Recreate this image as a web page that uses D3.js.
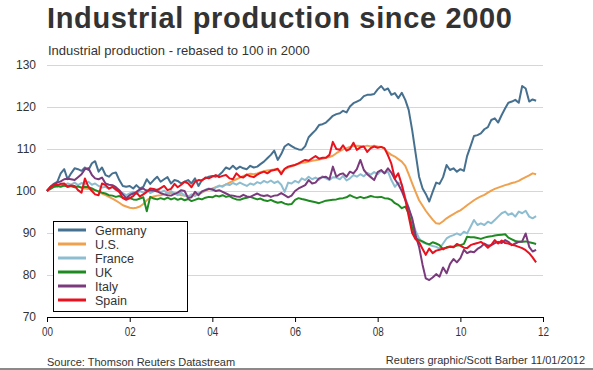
<!DOCTYPE html>
<html>
<head>
<meta charset="utf-8">
<script src="https://cdn.jsdelivr.net/npm/d3@7"></script>
<style>
  html, body { margin: 0; padding: 0; background: #fff; }
  svg { display: block; font-family: "Liberation Sans", Arial, sans-serif; }
</style>
</head>
<body>
<svg id="chart" width="593" height="370"></svg>
<script>
// ---------- DATA (monthly, Jan 2000 .. Nov 2011, index 2000 = 100) ----------
const seriesNames = ["Germany", "U.S.", "France", "UK", "Italy", "Spain"];
const seriesColors = ["#46708f", "#f0a14e", "#8dbdd1", "#1f8a22", "#7a3a7c", "#e8111d"];
const yTicks = [70, 80, 90, 100, 110, 120, 130];
const xTickYears = [2000, 2002, 2004, 2006, 2008, 2010, 2012];
const xTickLabels = ["00", "02", "04", "06", "08", "10", "12"];

const germany = [
  100.0, 101.0, 101.7, 102.2, 104.2, 105.2, 102.8, 104.2, 105.4, 105.2, 104.8, 105.6,
  105.0, 106.6, 107.1, 104.6, 105.6, 103.8, 103.4, 104.2, 104.4, 102.6, 101.2, 101.0,
  101.2, 100.6, 101.4, 100.6, 101.0, 102.8, 101.7, 102.6, 103.4, 102.2, 102.8, 103.3,
  101.8, 102.6, 102.4, 101.8, 102.2, 102.6, 101.8, 103.0, 101.2, 102.6, 103.0, 103.4,
  103.6, 103.4, 103.8, 104.6, 105.6, 105.2, 106.0, 105.2, 105.8, 105.4, 105.2, 106.0,
  105.6, 105.8, 106.4, 107.0, 107.8, 108.6, 109.6, 107.4, 108.8, 110.6, 111.2, 110.7,
  110.2, 109.9, 109.8, 110.7, 112.8, 113.7, 114.5, 115.7, 115.9, 116.3, 117.1, 117.9,
  118.3, 118.5, 119.1, 118.7, 120.1, 120.9, 121.3, 121.7, 122.6, 122.9, 122.9, 123.1,
  124.2, 125.0, 124.0, 124.4, 122.9, 123.3, 122.1, 123.4, 121.7, 119.3, 114.5, 109.0,
  103.4, 100.6, 99.3, 97.5, 99.8, 102.0, 101.7, 103.3, 106.2, 105.0, 105.4, 104.6,
  105.2, 104.8, 108.3, 110.7, 113.1, 113.3, 113.7, 114.7, 115.2, 116.9, 117.3, 116.3,
  118.1, 119.7, 121.0, 121.3, 121.7, 121.0, 125.0, 124.4, 121.3, 121.8, 121.5
];
const us = [
  100.0, 100.8, 101.0, 101.2, 101.5, 101.4, 101.2, 101.2, 101.0, 101.0, 100.8, 100.6,
  100.5, 100.3, 100.2, 99.8, 99.4, 99.0, 98.6, 98.2, 97.7, 97.2, 96.6, 96.3,
  96.0, 95.9, 96.0, 96.3, 96.9, 97.8, 98.4, 98.7, 98.9, 99.0, 99.2, 99.4,
  99.6, 99.4, 99.2, 99.0, 98.9, 98.8, 98.9, 99.1, 99.3, 99.6, 100.1, 100.4,
  100.6, 100.9, 101.1, 101.2, 101.6, 102.0, 102.4, 102.8, 103.2, 103.6, 103.9, 104.1,
  104.0, 104.2, 104.5, 104.7, 104.9, 105.0, 105.1, 105.0, 104.5, 105.2, 105.6, 105.9,
  106.2, 106.5, 106.7, 106.8, 107.0, 107.2, 107.3, 107.5, 107.7, 107.9, 108.1, 108.4,
  109.0, 109.5, 109.9, 110.2, 110.5, 110.7, 110.8, 110.7, 110.6, 110.8, 110.6, 110.8,
  110.6, 110.5, 110.0, 109.2, 108.6, 108.2, 107.6, 107.0, 106.0, 104.0, 101.8, 99.8,
  97.8, 96.5, 95.3, 94.2, 93.2, 92.3, 92.2, 92.8, 93.5, 94.0, 94.5, 95.0,
  95.4, 96.0, 96.6, 97.2, 97.8, 98.3, 98.7, 99.1, 99.6, 100.1, 100.5, 100.8,
  101.1, 101.4, 101.6, 101.9, 102.1, 102.4, 102.9, 103.3, 103.7, 104.2, 104.0
];
const france = [
  100.0, 100.8, 101.2, 101.0, 101.6, 101.3, 101.8, 101.5, 102.0, 101.4, 101.9, 101.6,
  102.2, 101.5, 101.8, 101.2, 100.8, 101.0, 100.5, 100.9, 100.2, 99.8, 99.5, 99.0,
  99.4, 99.8, 99.3, 100.0, 99.6, 100.3, 99.5, 99.9, 100.4, 99.7, 100.1, 99.5,
  100.0, 99.4, 99.0, 99.6, 98.9, 98.6, 99.2, 98.8, 99.5, 99.8, 100.3, 100.6,
  100.2, 100.9, 101.3, 101.0, 101.6, 101.4, 101.9, 101.5, 102.0, 101.6, 101.2, 101.8,
  101.5, 102.1, 101.8, 102.4, 102.0, 102.5, 101.9, 102.3, 101.5, 99.8, 102.0, 101.8,
  102.4, 102.0, 103.0, 102.6, 103.4, 102.8, 103.2, 102.7, 103.5, 103.0, 102.6, 103.3,
  103.2, 102.8, 103.6, 102.5, 103.0, 103.8, 103.4, 104.0, 103.5, 104.3, 103.9, 104.5,
  104.0, 104.8, 104.2, 104.6, 102.6, 101.0, 102.0, 101.6, 98.5, 96.0, 93.1, 90.5,
  88.7, 87.8, 87.5, 87.2, 86.9, 86.7, 86.3, 87.5, 88.7, 89.2, 89.5, 89.9,
  89.5, 90.3, 89.9, 91.5, 93.1, 91.9, 92.3, 91.9, 92.7, 92.3, 93.1, 93.9,
  94.7, 95.1, 94.3, 94.7, 93.9, 95.1, 94.7, 95.3, 93.9, 93.5, 94.0
];
const uk = [
  100.0, 100.5, 101.0, 101.2, 101.0, 101.3, 101.0, 101.2, 100.9, 101.1, 100.8, 101.0,
  100.9, 100.6, 100.2, 99.9, 99.6, 99.4, 99.0, 98.9, 98.6, 98.8, 98.4, 98.2,
  98.3, 98.0, 97.9, 98.2, 98.5, 95.2, 98.6, 98.2, 98.0, 98.3, 98.0, 98.4,
  98.0, 98.3, 97.9, 98.2, 97.8, 98.1, 97.6, 97.9, 98.2, 98.0, 98.4, 98.6,
  98.5, 98.9, 98.7, 99.0, 98.6, 98.8, 98.3, 98.0, 97.9, 98.2, 98.4, 98.6,
  98.3, 98.0, 98.2, 97.8, 97.6, 97.9, 97.5, 97.2, 97.4, 97.0, 96.8, 96.9,
  97.9, 98.3, 98.1, 97.9, 97.7, 97.5, 97.3, 97.1, 97.4, 97.7, 97.8, 97.9,
  98.0, 98.2, 98.3, 98.5, 99.0, 98.6, 98.3, 98.6, 98.3, 98.5, 98.8, 98.6,
  98.5, 98.6, 98.3, 98.2, 97.9, 97.1, 96.7, 95.9, 96.3, 94.7, 91.5, 88.7,
  88.3, 88.0, 87.6, 87.3, 87.8, 87.5, 87.1, 86.1, 86.6, 86.8, 86.7, 87.0,
  87.1, 87.4, 89.1, 89.0, 89.0, 88.8, 88.6, 88.9, 89.1, 89.2, 89.4, 89.5,
  89.6, 89.7, 88.9, 88.5, 88.1, 87.9, 87.9, 88.0, 87.8, 87.6, 87.4
];
const italy = [
  100.0, 101.0, 101.5, 102.0, 102.3, 102.8, 102.9, 102.8, 102.6, 103.3, 104.0, 105.2,
  105.4, 103.8, 103.0, 102.8, 103.2, 101.8, 101.5, 101.4, 100.9, 100.2, 99.2, 98.3,
  99.0, 99.4, 99.8, 100.4, 100.6, 100.0, 100.2, 100.1, 99.9, 99.5, 99.2, 99.0,
  98.9, 99.3, 99.6, 100.2, 100.0, 98.3, 98.5, 99.8, 99.0, 99.9, 100.2, 100.5,
  100.4, 100.0, 100.2, 99.8, 99.4, 99.0, 98.9, 98.7, 98.6, 99.1, 98.7, 98.6,
  99.0, 99.4, 99.0, 98.8, 99.0, 98.6, 98.9, 99.0, 99.5, 99.0, 98.5, 98.9,
  100.0, 100.6, 101.0, 101.4, 102.6, 101.8, 102.0, 103.0, 103.3, 103.4, 102.8, 105.8,
  103.4, 104.0, 104.2, 103.4, 104.6, 104.2, 105.2, 107.4, 105.0, 104.0, 103.3, 102.6,
  104.5, 105.0, 104.2, 105.4, 104.4, 102.8, 101.6, 100.0, 97.9, 95.9, 93.5, 89.5,
  86.7, 82.4, 79.2, 78.8, 79.4, 80.2, 79.6, 81.8, 80.4, 82.6, 83.8, 83.0,
  84.0, 86.0, 85.2, 85.6, 85.4, 86.2, 86.7, 87.5, 87.0, 87.1, 87.6, 87.9,
  87.6, 88.3, 87.9, 87.1, 87.5, 87.9, 88.0, 89.9, 86.7, 85.6, 86.0
];
const spain = [
  100.0, 101.0, 101.4, 101.4, 101.7, 101.8, 101.0, 101.3, 101.2, 100.2, 99.6, 103.0,
  101.0, 100.0, 99.2, 99.0, 101.8, 101.4, 100.6, 101.0, 100.4, 99.8, 98.3, 97.9,
  98.3, 98.8, 99.6, 98.7, 99.2, 99.8, 100.6, 100.5, 100.2, 100.7, 101.2, 100.2,
  100.5, 101.7, 100.9, 101.5, 102.2, 101.8, 100.9, 102.2, 102.6, 102.5, 103.2, 103.0,
  103.4, 103.8, 103.3, 103.6, 103.8, 103.0, 102.8, 104.2, 103.4, 103.2, 103.9, 103.5,
  103.3, 103.9, 104.3, 104.6, 104.2, 104.8, 105.0, 105.3, 104.0, 105.3, 105.8, 106.0,
  106.2, 106.6, 107.0, 107.4, 107.2, 107.8, 108.3, 107.7, 107.9, 107.9, 108.6, 111.7,
  110.0, 109.8, 110.9, 109.6, 110.0, 111.5, 109.8, 110.4, 110.6, 109.3, 110.2, 110.6,
  110.3, 110.5, 110.2, 108.5, 106.5, 103.0, 104.2, 101.5, 98.0, 94.0, 90.0, 88.5,
  87.8, 86.2, 84.8, 86.3, 85.2, 85.8, 86.0, 86.3, 86.5, 86.7, 86.6, 87.4,
  87.0, 86.5, 86.4, 87.1, 87.4, 87.6, 87.9, 87.3, 86.5, 87.2, 88.3, 87.5,
  88.2, 87.6, 87.5, 87.2, 87.0, 86.7, 86.4, 85.9, 85.2, 84.2, 83.0
];
const seriesValues = [germany, us, france, uk, italy, spain];

// ---------- DRAW ----------
const svg = d3.select("#chart");
const textColor = "#333";

const x = d3.scaleTime()
  .domain([new Date(2000, 0, 1), new Date(2012, 0, 1)])
  .range([47, 543]);
const y = d3.scaleLinear().domain([70, 130]).range([317, 65]);

// Title & subtitle
svg.append("text")
  .attr("x", 47).attr("y", 28)
  .attr("font-size", 29).attr("font-weight", "bold")
  .attr("fill", textColor)
  .attr("textLength", 465).attr("lengthAdjust", "spacing")
  .text("Industrial production since 2000");
svg.append("text")
  .attr("x", 48).attr("y", 55)
  .attr("font-size", 13).attr("fill", textColor)
  .text("Industrial production - rebased to 100 in 2000");

// Grid lines
svg.append("g").selectAll("line")
  .data(yTicks.filter(d => d > 70))
  .join("line")
  .attr("x1", 47).attr("x2", 543)
  .attr("y1", d => y(d) + 0.5).attr("y2", d => y(d) + 0.5)
  .attr("stroke", "#d6d6d6").attr("stroke-width", 1);

// Y axis labels
const yAxis = svg.append("g")
  .attr("transform", "translate(47,0)")
  .call(d3.axisLeft(y).tickValues(yTicks).tickSize(0).tickPadding(11));
yAxis.select(".domain").remove();
yAxis.selectAll("text")
  .attr("font-size", 12).attr("fill", textColor)
  .attr("font-family", "Liberation Sans, Arial, sans-serif");

// Lines
const line = d3.line()
  .x((d, i) => x(new Date(2000, i, 1)))
  .y(d => y(d));
svg.append("g").selectAll("path")
  .data(seriesValues)
  .join("path")
  .attr("d", d => line(d))
  .attr("fill", "none")
  .attr("stroke", (d, i) => seriesColors[i])
  .attr("stroke-width", 2)
  .attr("stroke-linejoin", "round");

// X axis
const xAxis = svg.append("g")
  .attr("transform", "translate(0,317)")
  .call(d3.axisBottom(x)
    .tickValues(xTickYears.map(yr => new Date(yr, 0, 1)))
    .tickFormat((d, i) => xTickLabels[i])
    .tickSize(5).tickSizeOuter(0).tickPadding(5));
xAxis.select(".domain").attr("stroke", "#000").attr("stroke-width", 1.2);
xAxis.selectAll(".tick line").attr("stroke", "#000");
xAxis.selectAll("text")
  .attr("font-size", 13).attr("fill", textColor)
  .attr("font-family", "Liberation Sans, Arial, sans-serif")
  .attr("textLength", 11).attr("lengthAdjust", "spacingAndGlyphs");

// Legend
const legend = svg.append("g");
legend.append("rect")
  .attr("x", 53.5).attr("y", 221.5).attr("width", 134).attr("height", 90)
  .attr("fill", "#fff").attr("stroke", "#000").attr("stroke-width", 1);
const rows = legend.selectAll("g.row")
  .data(seriesNames)
  .join("g").attr("class", "row")
  .attr("transform", (d, i) => `translate(0,${230 + i * 14})`);
rows.append("line")
  .attr("x1", 58).attr("x2", 86).attr("y1", 0).attr("y2", 0)
  .attr("stroke", (d, i) => seriesColors[i]).attr("stroke-width", 3);
rows.append("text")
  .attr("x", 95).attr("y", 4.5)
  .attr("font-size", 12.5).attr("fill", textColor)
  .text(d => d);

// Footer
svg.append("text")
  .attr("x", 47).attr("y", 366)
  .attr("font-size", 11).attr("fill", textColor)
  .text("Source: Thomson Reuters Datastream");
svg.append("text")
  .attr("x", 585).attr("y", 364)
  .attr("text-anchor", "end")
  .attr("font-size", 11).attr("fill", textColor)
  .text("Reuters graphic/Scott Barber 11/01/2012");
svg.append("rect")
  .attr("x", 0).attr("y", 368).attr("width", 593).attr("height", 2)
  .attr("fill", "#8a8a8a");
</script>
</body>
</html>
